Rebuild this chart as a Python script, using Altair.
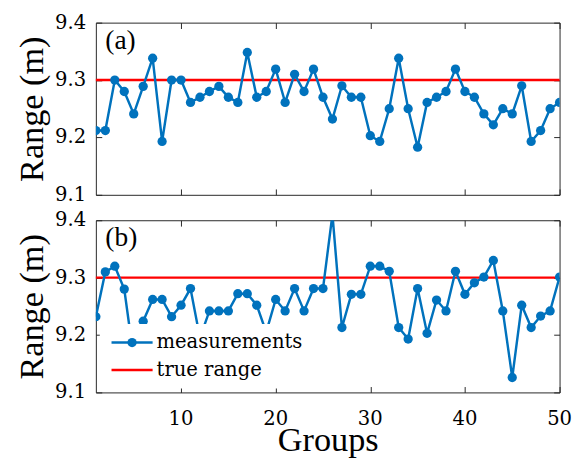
import altair as alt
import pandas as pd

# Group index and the two measurement runs (metres)
groups = list(range(1, 51))
range_a = [9.212, 9.212, 9.300, 9.280, 9.241, 9.289, 9.338, 9.193, 9.300, 9.300,
           9.261, 9.270, 9.280, 9.289, 9.270, 9.261, 9.348, 9.270, 9.280, 9.319,
           9.261, 9.310, 9.280, 9.319, 9.270, 9.232, 9.290, 9.270, 9.270, 9.203,
           9.193, 9.250, 9.338, 9.250, 9.183, 9.261, 9.270, 9.280, 9.319, 9.280,
           9.270, 9.241, 9.222, 9.250, 9.241, 9.290, 9.193, 9.212, 9.250, 9.261]
range_b = [9.232, 9.310, 9.320, 9.280, 9.160, 9.224, 9.262, 9.262, 9.232, 9.252,
           9.281, 9.195, 9.242, 9.242, 9.242, 9.272, 9.272, 9.252, 9.205, 9.262,
           9.242, 9.281, 9.242, 9.281, 9.281, 9.410, 9.213, 9.271, 9.271, 9.320,
           9.320, 9.311, 9.213, 9.193, 9.281, 9.203, 9.261, 9.242, 9.311, 9.271,
           9.291, 9.301, 9.330, 9.242, 9.126, 9.252, 9.213, 9.233, 9.242, 9.301]
true_range = 9.3
series_names = ["measurements", "true range"]
x_ticks = [10, 20, 30, 40, 50]
y_ticks = [9.1, 9.2, 9.3, 9.4]

BLUE = "#0072BD"
RED = "#FF0000"
FONT = "Liberation Serif"      # large text
SMALL_FONT = "DejaVu Serif"    # tick labels and legend entries
W, H = 474, 176

x_scale = alt.Scale(domain=[1, 50], nice=False, zero=False)
y_scale = alt.Scale(domain=[9.1, 9.4], nice=False, zero=False)
color_scale = alt.Scale(domain=series_names, range=[BLUE, RED])
# legend rows sit on their own point scale inside the lower panel
legend_rows = alt.Scale(type="point", domain=series_names, range=[125, 153],
                        padding=0)


def inward(orient, title=None, pad=0):
    """Boxed MATLAB-style axis: ticks pointing into the plot, no labels."""
    values = x_ticks if orient in ("top", "bottom") else y_ticks
    kw = dict(orient=orient, values=values, labels=False, domain=False,
              grid=False, tickSize=6, offset=-6, tickColor="#262626",
              tickWidth=1, titleFont=FONT, titleFontSize=35,
              titleFontWeight="normal", titleColor="black", title=title)
    if title:
        kw["titlePadding"] = pad
    return alt.Axis(**kw)


def panel(values, tag, bottom_labels, with_legend):
    df = pd.DataFrame({"group": groups, "range": values,
                       "series": ["measurements"] * len(groups)})
    ref = pd.DataFrame({"range": [true_range], "series": ["true range"]})
    tag_df = pd.DataFrame({"group": [2.0], "range": [9.368], "tag": [tag]})
    ytick_df = pd.DataFrame({"tick": y_ticks})
    xtick_df = pd.DataFrame({"tick": x_ticks})

    color = alt.Color("series:N", scale=color_scale, legend=None)

    rule = alt.Chart(ref).mark_rule(strokeWidth=2.5).encode(
        y=alt.Y("range:Q", scale=y_scale, axis=None),
        color=color,
    )
    line = alt.Chart(df).mark_line(strokeWidth=2.5, clip=True).encode(
        x=alt.X("group:Q", scale=x_scale,
                axis=inward("bottom", "Groups" if bottom_labels else None, 31)),
        y=alt.Y("range:Q", scale=y_scale,
                axis=inward("left", "Range (m)", 47)),
        color=color,
    )
    dots = alt.Chart(df).mark_circle(size=90, opacity=1, clip=True).encode(
        x=alt.X("group:Q", scale=x_scale, axis=inward("top")),
        y=alt.Y("range:Q", scale=y_scale, axis=inward("right")),
        color=color,
    )
    label = alt.Chart(tag_df).mark_text(
        align="left", baseline="middle", font=FONT, fontSize=28, color="black"
    ).encode(
        x=alt.X("group:Q", scale=x_scale, axis=None),
        y=alt.Y("range:Q", scale=y_scale, axis=None),
        text="tag:N",
    )
    ylabels = alt.Chart(ytick_df).mark_text(
        align="right", baseline="middle", font=SMALL_FONT, fontSize=20,
        color="black"
    ).encode(
        x=alt.value(-10),
        y=alt.Y("tick:Q", scale=y_scale, axis=None),
        text=alt.Text("tick:Q", format=".1f"),
    )
    layers = [rule, line, dots, label, ylabels]

    if bottom_labels:
        xlabels = alt.Chart(xtick_df).mark_text(
            align="center", baseline="alphabetic", font=SMALL_FONT,
            fontSize=20, color="black"
        ).encode(
            x=alt.X("tick:Q", scale=x_scale, axis=None),
            y=alt.value(H + 33),
            text=alt.Text("tick:Q", format="d"),
        )
        layers.append(xlabels)

    if with_legend:
        leg_df = pd.DataFrame({"entry": series_names})
        ly = alt.Y("entry:N", scale=legend_rows, axis=None)
        lc = alt.Color("entry:N", scale=color_scale, legend=None)
        box = alt.Chart(leg_df.head(1)).mark_rect(fill="white").encode(
            x=alt.value(4), x2=alt.value(212),
            y=alt.value(106), y2=alt.value(172),
        )
        glyph_lines = alt.Chart(leg_df).mark_rule(strokeWidth=2.5).encode(
            x=alt.value(16), x2=alt.value(58), y=ly, color=lc,
        )
        glyph_dot = alt.Chart(leg_df.head(1)).mark_circle(
            size=90, opacity=1
        ).encode(x=alt.value(37), y=ly, color=lc)
        glyph_text = alt.Chart(leg_df).mark_text(
            align="left", baseline="middle", font=SMALL_FONT, fontSize=20,
            color="black"
        ).encode(x=alt.value(62), y=ly, text="entry:N")
        layers += [box, glyph_lines, glyph_dot, glyph_text]

    return alt.layer(*layers).resolve_scale(y="independent").resolve_axis(
        x="independent", y="independent"
    ).properties(width=W, height=H)


top = panel(range_a, "(a)", False, False)
bottom = panel(range_b, "(b)", True, True)

chart = alt.vconcat(top, bottom, spacing=4).properties(
    padding={"left": 15, "top": 7, "right": 12, "bottom": 0},
    background="white",
).configure_view(stroke="#262626", strokeWidth=1)

chart.save("out.html", embed_options={"renderer": "svg", "actions": False})
